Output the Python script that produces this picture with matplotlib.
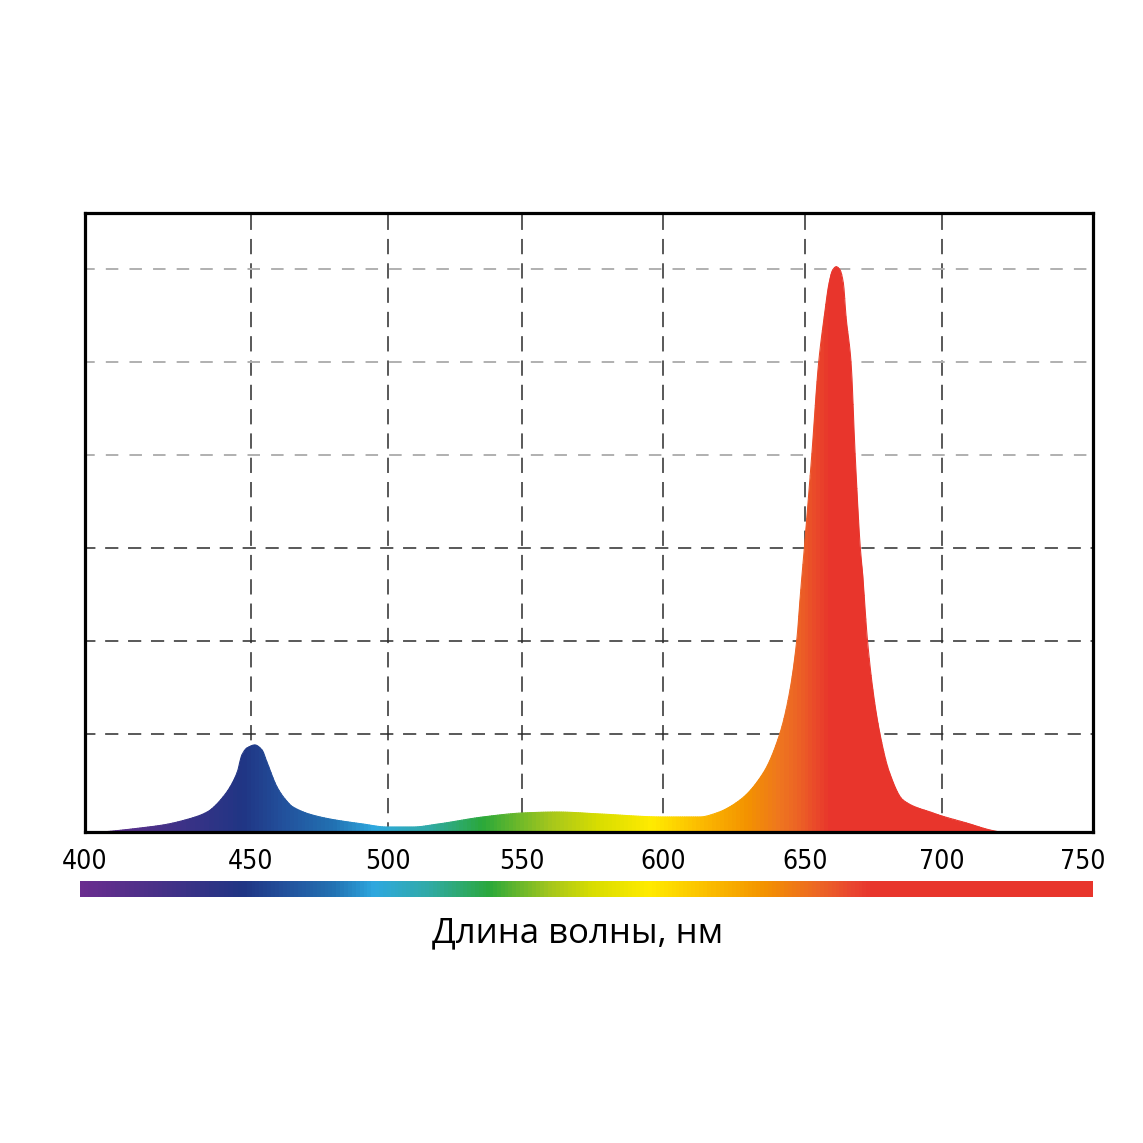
import numpy as np
import matplotlib
matplotlib.use("Agg")
import matplotlib.pyplot as plt
from matplotlib.colors import LinearSegmentedColormap, Normalize
from matplotlib.path import Path
from matplotlib.patches import PathPatch
from matplotlib.collections import PatchCollection

# ---------------- data ----------------
wavelength = [405, 408.5, 416.6, 423.6, 430.2, 436.9, 441.7, 445.9, 447.4, 448.9,
              451.6, 454.2, 456.0, 459.7, 462.6, 465.5, 475.4, 491.1, 499.8, 509.5,
              518.8, 535.5, 550.4, 562.4, 577.7, 600.0, 613.0, 618.9, 627.1, 635.3,
              641.2, 644.7, 647.1, 648.5, 650.0, 652.5, 655.0, 657.0, 658.8, 660.1,
              661.4, 662.8, 664.0, 665.0, 666.8, 668.3, 670.2, 671.0, 672.8, 674.8,
              677.3, 680.9, 685.8, 696.7, 700.0, 708.7, 717.0, 720.5]
intensity = [-0.054, -0.043, -0.011, 0.022, 0.075, 0.161, 0.323, 0.581, 0.774, 0.849,
             0.882, 0.828, 0.699, 0.430, 0.301, 0.215, 0.108, 0.032, 0.0, 0.0,
             0.032, 0.108, 0.151, 0.161, 0.140, 0.108, 0.108, 0.151, 0.290, 0.581,
             1.011, 1.473, 2.011, 2.548, 3.086, 4.011, 5.0, 5.484, 5.849, 5.989,
             6.025, 5.989, 5.849, 5.484, 5.0, 4.011, 3.0, 2.731, 2.011, 1.473,
             1.011, 0.581, 0.290, 0.151, 0.118, 0.043, -0.032, -0.054]

tick_values = [400, 450, 500, 550, 600, 650, 700, 750]
tick_labels = ["400", "450", "500", "550", "600", "650", "700", "750"]
grid_x = [450, 500, 550, 600, 650, 700]
grid_y_dark = [1, 2, 3]
grid_y_light = [4, 5, 6]
xlabel = "Длина волны, нм"

# spectral colour stops of the filled curve (wavelength, colour)
fill_wl = [398, 420, 447, 462, 480, 495, 515, 535, 560, 577, 596, 614, 630, 642, 650, 659, 760]
fill_hex = ["#6a2d8f", "#4a3088", "#203584", "#22519c", "#2271b2", "#2ea8df", "#30aaa6",
            "#2aa83a", "#a5c61c", "#d8dd00", "#ffeb00", "#fbb800", "#f39200", "#ee7420",
            "#eb5a27", "#e8352c", "#e8352c"]
# colour stops of the wavelength bar
bar_wl = [398, 420, 447, 462, 480, 495, 515, 538, 560, 575, 595, 615, 636, 655, 668, 675, 760]
bar_hex = ["#6a2d8f", "#4a3088", "#203584", "#22519c", "#2271b2", "#2ea8df", "#30aaa6",
           "#2aa83a", "#a5c61c", "#d8dd00", "#ffeb00", "#fbc000", "#f39200", "#ec6625",
           "#e94430", "#e8352c", "#e8352c"]

# ---------------- scale (non-uniform axis of the original) ----------------
scale_wl = [374.3, 400, 450, 500, 550, 600, 650, 700, 750, 771.3]
scale_pos = [0, 85, 250.5, 387.5, 522, 663, 805, 942, 1083, 1143]


def fwd(w):
    return np.interp(w, scale_wl, scale_pos)


def inv(p):
    return np.interp(p, scale_pos, scale_wl)


def make_cmap(name, wl, hx):
    pos = [(w - wl[0]) / (wl[-1] - wl[0]) for w in wl]
    return LinearSegmentedColormap.from_list(name, list(zip(pos, hx)))


def pchip_slopes(x, y):
    h = np.diff(x)
    d = np.diff(y) / h
    m = np.zeros_like(y)
    m[0], m[-1] = d[0], d[-1]
    for k in range(1, len(x) - 1):
        if d[k - 1] * d[k] <= 0:
            m[k] = 0.0
        else:
            w1 = 2 * h[k] + h[k - 1]
            w2 = h[k] + 2 * h[k - 1]
            m[k] = (w1 + w2) / (w1 / d[k - 1] + w2 / d[k])
    return m


def split_bezier(p0, p1, p2, p3, t):
    p01 = p0 + (p1 - p0) * t
    p12 = p1 + (p2 - p1) * t
    p23 = p2 + (p3 - p2) * t
    p012 = p01 + (p12 - p01) * t
    p123 = p12 + (p23 - p12) * t
    p0123 = p012 + (p123 - p012) * t
    return (p0, p01, p012, p0123), (p0123, p123, p23, p3)


plt.rcParams['lines.scale_dashes'] = False

W = 1143.0
fig = plt.figure(figsize=(11.43, 11.43), dpi=100)
fig.patch.set_facecolor("white")

ax = fig.add_axes([85 / W, 1 - 832 / W, (1093 - 85) / W, (832 - 213) / W])
ax.set_xscale('function', functions=(fwd, inv))
ax.set_xlim(inv(85), inv(1093))
ybot, ytop = (827 - 832) / 93, (827 - 213) / 93
ax.set_ylim(ybot, ytop)

# grid lines
for gx in grid_x:
    ax.axvline(gx, color="#2b2b2b", lw=1.1, linestyle=(4, (11, 6.5)), zorder=1)
for gy in grid_y_dark:
    ax.axhline(gy, color="#2b2b2b", lw=1.1, linestyle=(2, (9.5, 7)), zorder=1)
for gy in grid_y_light:
    ax.axhline(gy, color="#b0b0b0", lw=1.4, linestyle=(2, (9, 8)), zorder=1)

# gradient fill clipped to the smoothly drawn spectrum curve
fill_cmap = make_cmap("spec_fill", fill_wl, fill_hex)
fnorm = Normalize(fill_wl[0], fill_wl[-1])
xe = np.linspace(inv(85), inv(1093), 1000)
xc = 0.5 * (xe[1:] + xe[:-1])
mesh = ax.pcolormesh(xe, [ybot - 0.1, ytop], xc[np.newaxis, :], cmap=fill_cmap,
                     norm=fnorm, shading='flat', zorder=2,
                     antialiased=False, edgecolors='none')

x = np.array(wavelength, float)
y = np.array(intensity, float)
m = pchip_slopes(x, y)
beziers = []
for i in range(len(x) - 1):
    h = x[i + 1] - x[i]
    b0 = np.array([x[i], y[i]])
    b1 = np.array([x[i] + h / 3, y[i] + m[i] * h / 3])
    b2 = np.array([x[i + 1] - h / 3, y[i + 1] - m[i + 1] * h / 3])
    b3 = np.array([x[i + 1], y[i + 1]])
    beziers.append((b0, b1, b2, b3))

verts = [tuple(beziers[0][0])]
codes = [Path.MOVETO]
for b in beziers:
    verts += [tuple(b[1]), tuple(b[2]), tuple(b[3])]
    codes += [Path.CURVE4] * 3
verts += [(x[-1], ybot - 0.1), (x[0], ybot - 0.1), (x[0], y[0])]
codes += [Path.LINETO, Path.LINETO, Path.CLOSEPOLY]
clip = PathPatch(Path(verts, codes), transform=ax.transData)
mesh.set_clip_path(clip)

# thin antialiased edge along the curve, coloured like the fill underneath
edge_patches, edge_colors = [], []
for b in beziers:
    k = max(1, int(np.ceil((b[3][0] - b[0][0]) / 0.8)))
    rest = b
    for j in range(k):
        if j < k - 1:
            piece, rest = split_bezier(*rest, 1.0 / (k - j))
        else:
            piece = rest
        edge_patches.append(PathPatch(Path([tuple(p) for p in piece],
                                           [Path.MOVETO, Path.CURVE4, Path.CURVE4, Path.CURVE4])))
        edge_colors.append(fill_cmap(fnorm(0.5 * (piece[0][0] + piece[3][0]))))
edges = PatchCollection(edge_patches, facecolors='none', edgecolors=edge_colors,
                        linewidths=0.75, zorder=3, capstyle='round')
ax.add_collection(edges)

for s in ax.spines.values():
    s.set_linewidth(2.3)
    s.set_color("black")
    s.set_zorder(5)

ax.set_xticks(tick_values)
ax.set_xticklabels(tick_labels, fontsize=19, fontstretch='condensed',
                   family=["Open Sans Condensed Light", "Liberation Sans Narrow",
                           "DejaVu Sans"])
ax.tick_params(axis='x', length=0, pad=12.5)
ax.set_yticks([])
ax.xaxis.set_minor_locator(matplotlib.ticker.NullLocator())

# colour bar
bar_cmap = make_cmap("spec_bar", bar_wl, bar_hex)
cax = fig.add_axes([80 / W, 1 - 897 / W, (1093 - 80) / W, 16 / W])
cax.set_xscale('function', functions=(fwd, inv))
cax.set_xlim(inv(80), inv(1093))
cax.set_ylim(0, 1)
xe2 = np.linspace(inv(80), inv(1093), 1000)
xc2 = 0.5 * (xe2[1:] + xe2[:-1])
cax.pcolormesh(xe2, [0, 1], xc2[np.newaxis, :], cmap=bar_cmap,
               vmin=bar_wl[0], vmax=bar_wl[-1], shading='flat',
               antialiased=False, edgecolors='none')
cax.set_axis_off()

fig.text(578 / W, 1 - 942 / W, xlabel, ha='center', va='baseline', fontsize=25,
         family=["Open Sans", "DejaVu Sans"], color="black")

fig.savefig("out.png", dpi=100, facecolor="white")
